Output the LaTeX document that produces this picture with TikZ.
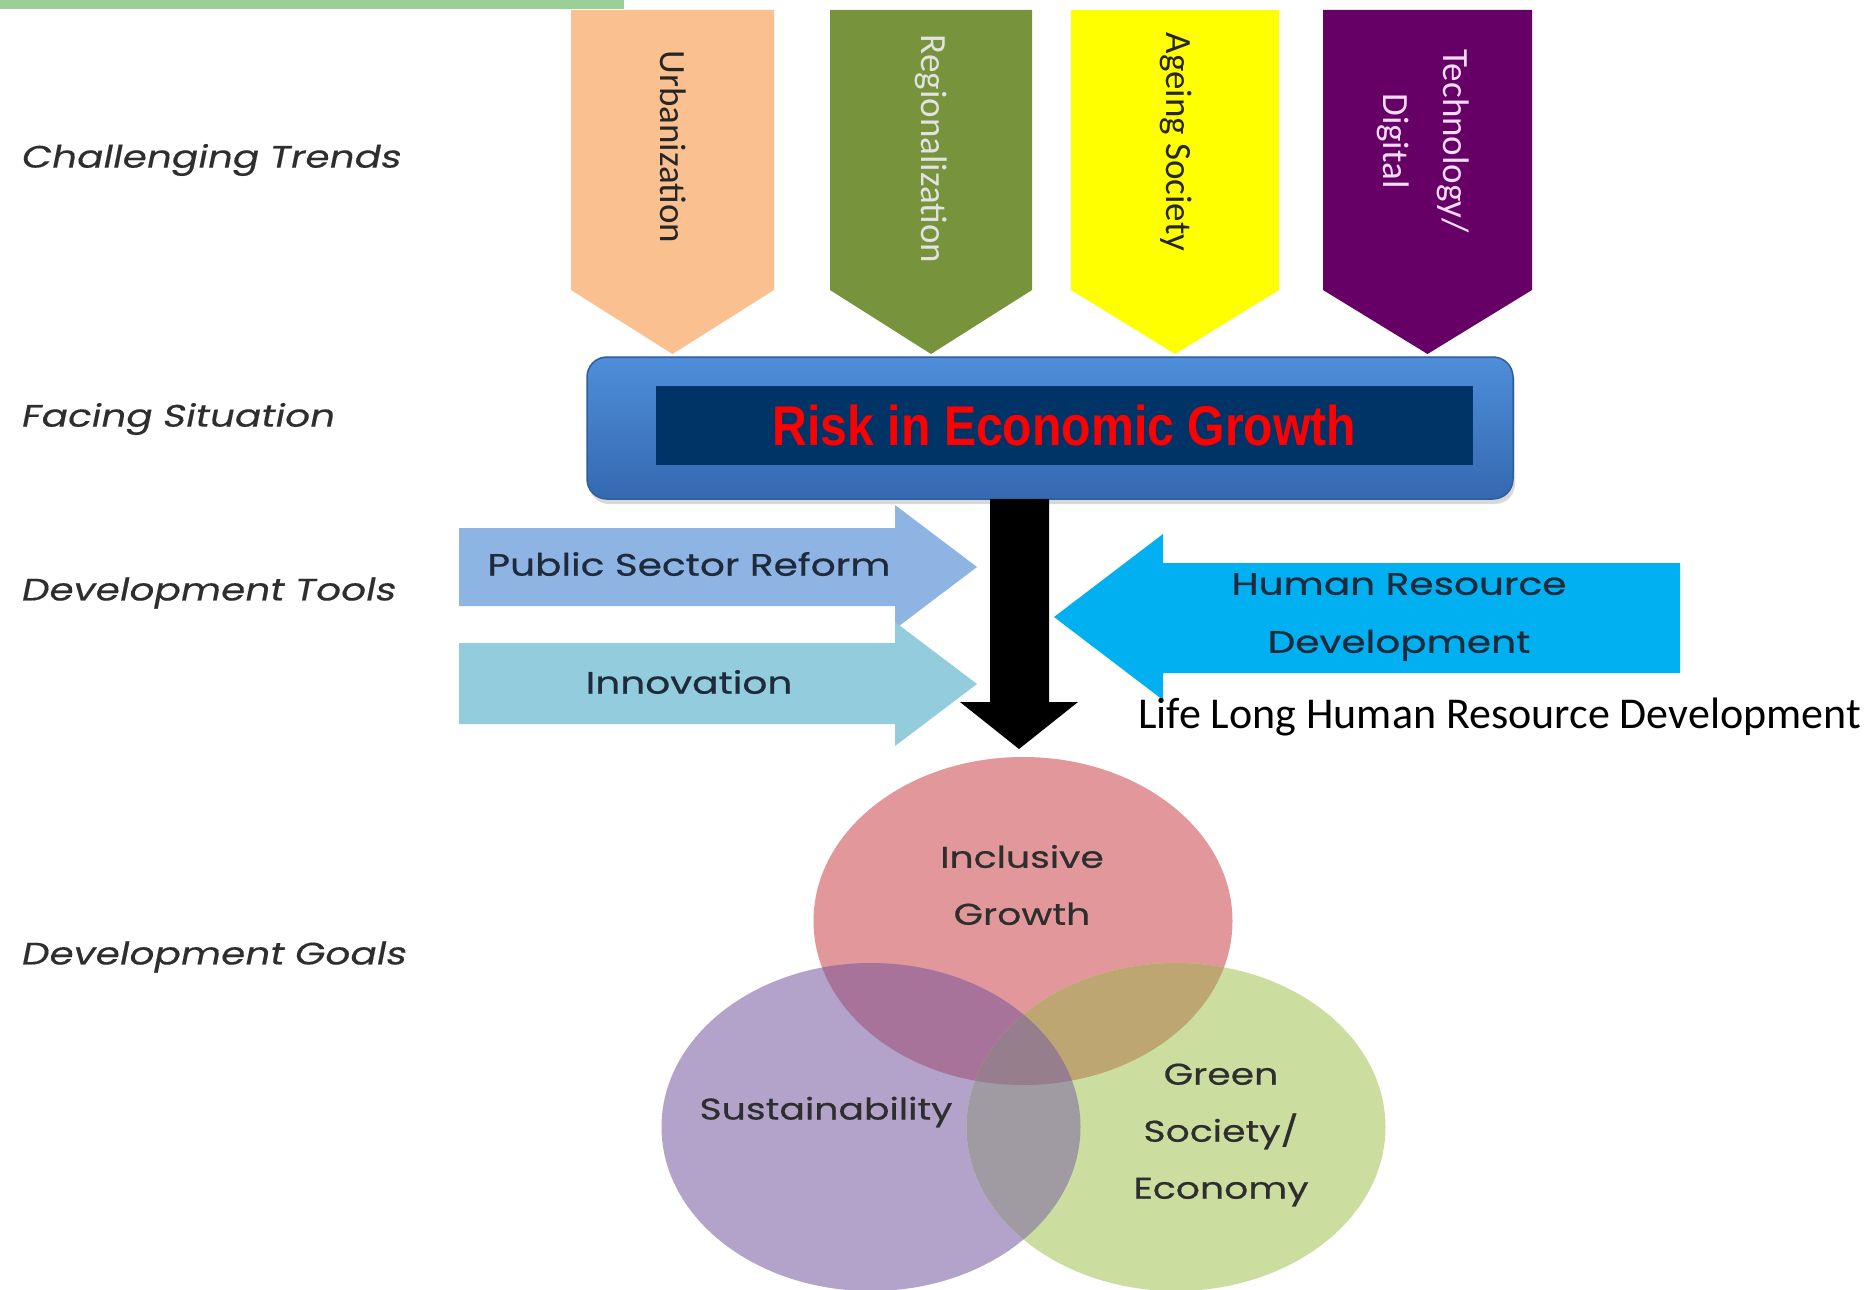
\documentclass[tikz,border=0pt]{standalone}
\usepackage{fontspec}
\setmainfont{Carlito}
\newfontfamily\lblfont[FakeSlant=0.2,FakeStretch=1.26,FakeBold=0.4]{Poppins}
\newfontfamily\rndfont[FakeStretch=1.26,FakeBold=0.6]{Poppins}
\newfontfamily\riskfont[FakeStretch=0.86]{Liberation Sans}
\usetikzlibrary{shapes.geometric,shadows}
\definecolor{topgreen}{HTML}{9BCF98}
\definecolor{urbc}{HTML}{FAC090}
\definecolor{regc}{HTML}{77933C}
\definecolor{agec}{HTML}{FFFF00}
\definecolor{tecc}{HTML}{660066}
\definecolor{reglt}{HTML}{E2E2E2}
\definecolor{teclt}{HTML}{F4DDF4}
\definecolor{boxtop}{HTML}{4F8EDA}
\definecolor{boxbot}{HTML}{3469B0}
\definecolor{navy}{HTML}{003366}
\definecolor{psrc}{HTML}{8EB4E3}
\definecolor{innc}{HTML}{93CDDD}
\definecolor{hrdc}{HTML}{00B0F0}
\definecolor{incc}{HTML}{E2989A}
\definecolor{susc}{HTML}{B3A3CB}
\definecolor{grnc}{HTML}{CBDEA0}
\definecolor{rpc}{HTML}{A8739B}
\definecolor{rgc}{HTML}{BEA672}
\definecolor{pgc}{HTML}{A09BA2}
\definecolor{rpgc}{HTML}{967E8C}
\definecolor{lblgray}{HTML}{2E2E2E}
\definecolor{tooltxt}{HTML}{1F2A3C}
\begin{document}
\begin{tikzpicture}[x=1pt,y=-1pt,
  lbl/.style={anchor=west, inner sep=0, text=lblgray, font=\lblfont\fontsize{31}{36}\selectfont},
  chevtext/.style={rotate=-90, inner sep=0, align=center, font=\fontsize{37}{60}\selectfont},
  tooltext/.style={inner sep=0, align=center, text=tooltxt, font=\rndfont\fontsize{31}{58}\selectfont},
  goaltext/.style={inner sep=0, align=center, text=black!82, font=\rndfont\fontsize{30}{57}\selectfont},
  goal/.style={ellipse, inner sep=0, minimum width=419, minimum height=328}]
\fill[white] (0,0) rectangle (1864,1290);
\useasboundingbox (0,0) rectangle (1864,1290);
\fill[topgreen] (0,0) rectangle (624,9);
% left labels
\node[lbl] (l1) at (20,160) {Challenging Trends};
\node[lbl] (l2) at (20,419) {Facing Situation};
\node[lbl] (l3) at (20,593) {Development Tools};
\node[lbl] (l4) at (20,957) {Development Goals};
% chevrons
\foreach \xl/\xr/\c in {571/774/urbc, 830/1032/regc, 1071/1279/agec, 1323/1532/tecc}
  \fill[\c] (\xl,10) -- (\xr,10) -- (\xr,290) -- ({(\xl+\xr)/2},354) -- (\xl,290) -- cycle;
\node[chevtext, text=black!85] (urb) at (673,147) {Urbanization};
\node[chevtext, text=reglt] (reg) at (931,149) {Regionalization};
\node[chevtext, text=black!85] (age) at (1176,142) {Ageing Society};
\node[chevtext, text=teclt] (tec) at (1423,141) {Technology/\\Digital};
% risk box
\node[rounded corners=20, minimum width=926, minimum height=142, top color=boxtop, bottom color=boxbot,
      draw=boxbot!90!black, line width=1.5, drop shadow={opacity=0.3, shadow xshift=2, shadow yshift=5}] (box) at (1050,428) {};
\node[fill=navy, minimum width=817, minimum height=79, inner sep=0, text=red,
      font=\riskfont\bfseries\fontsize{56}{60}\selectfont] (risk) at (1064.5,425.5) {Risk in Economic Growth};
% black arrow
\fill[black] (990,499) -- (1049,499) -- (1049,702) -- (1078,702) -- (1019,749) -- (960,702) -- (990,702) -- cycle;
% tool arrows
\fill[psrc] (459,528) -- (895,528) -- (895,505) -- (977,567) -- (895,629) -- (895,606) -- (459,606) -- cycle;
\fill[innc] (459,643) -- (895,643) -- (895,622) -- (977,684) -- (895,746) -- (895,724) -- (459,724) -- cycle;
\fill[hrdc] (1680,563) -- (1163,563) -- (1163,534) -- (1054,617) -- (1163,700) -- (1163,673) -- (1680,673) -- cycle;
\node[tooltext] (psr) at (689,564) {Public Sector Reform};
\node[tooltext] (inn) at (689,682) {Innovation};
\node[tooltext] (hrd) at (1399,617) {Human Resource\\Development};
\node[anchor=west, inner sep=0, font=\fontsize{44}{50}\selectfont] (life) at (1138,717) {Life Long Human Resource Development};
% goals
\node[goal, fill=incc] (incl) at (1023,921) {};
\node[goal, fill=susc] (sust) at (871,1127) {};
\node[goal, fill=grnc] (grn) at (1176,1127) {};
\begin{scope}
  \clip (1023,921) ellipse [x radius=209.5, y radius=164];
  \fill[rpc] (871,1127) ellipse [x radius=209.5, y radius=164];
  \fill[rgc] (1176,1127) ellipse [x radius=209.5, y radius=164];
\end{scope}
\begin{scope}
  \clip (871,1127) ellipse [x radius=209.5, y radius=164];
  \fill[pgc] (1176,1127) ellipse [x radius=209.5, y radius=164];
  \clip (1023,921) ellipse [x radius=209.5, y radius=164];
  \fill[rpgc] (1176,1127) ellipse [x radius=209.5, y radius=164];
\end{scope}
\node[goaltext] (tincl) at (1022,885) {Inclusive\\Growth};
\node[goaltext] (tsust) at (826,1112) {Sustainability};
\node[goaltext] (tgrn) at (1221,1135) {Green\\Society/\\Economy};
\end{tikzpicture}
\end{document}
